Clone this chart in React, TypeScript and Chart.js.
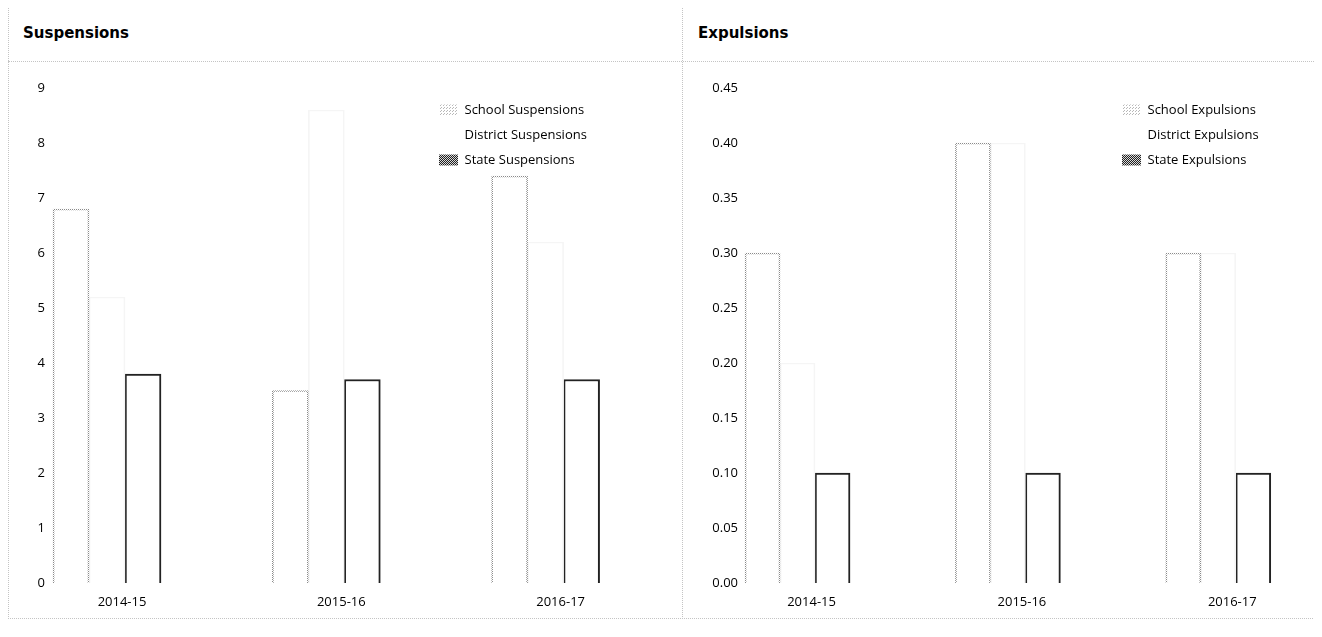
import React, { useEffect, useRef } from 'react';
import { Chart, registerables } from 'chart.js';

Chart.register(...registerables);

// ---------- data ----------
const categories = ['2014-15', '2015-16', '2016-17'];

const suspensionLabels = ['School Suspensions', 'District Suspensions', 'State Suspensions'];
const schoolSuspensions = [6.8, 3.5, 7.4];
const districtSuspensions = [5.2, 8.6, 6.2];
const stateSuspensions = [3.8, 3.7, 3.7];
const suspensionTicks = [0, 1, 2, 3, 4, 5, 6, 7, 8, 9];

const expulsionLabels = ['School Expulsions', 'District Expulsions', 'State Expulsions'];
const schoolExpulsions = [0.3, 0.4, 0.3];
const districtExpulsions = [0.2, 0.4, 0.3];
const stateExpulsions = [0.1, 0.1, 0.1];
const expulsionTicks = [0, 0.05, 0.1, 0.15, 0.2, 0.25, 0.3, 0.35, 0.4, 0.45];

// ---------- helpers ----------
function makePattern(ctx: CanvasRenderingContext2D, size: number, dots: number[][], color: string, bg?: string) {
  const c = document.createElement('canvas');
  c.width = size;
  c.height = size;
  const g = c.getContext('2d')!;
  if (bg) {
    g.fillStyle = bg;
    g.fillRect(0, 0, size, size);
  }
  g.fillStyle = color;
  dots.forEach(([x, y]) => g.fillRect(x, y, 1, 1));
  return ctx.createPattern(c, 'repeat') as CanvasPattern;
}

const tickFont = { family: "'Open Sans', 'DejaVu Sans', sans-serif", size: 13 };
const legendFont = { family: "'Open Sans', 'DejaVu Sans', sans-serif", size: 13 };

type PanelProps = {
  labels: string[];
  school: number[];
  district: number[];
  state: number[];
  yTicks: number[];
  decimals: number;
  xMin: number;
  xMax: number;
  barThickness: number;
  labelOffset: number;
  yWidth: number;
  yPad: number;
  rightPad: number;
  left: number;
  top: number;
  width: number;
  height: number;
  legendX: number;
  legendY: number;
};

function BarPanel(p: PanelProps) {
  const ref = useRef<HTMLCanvasElement>(null);

  useEffect(() => {
    const canvas = ref.current!;
    const ctx = canvas.getContext('2d')!;
    const schoolEdge = makePattern(ctx, 2, [[0, 0], [1, 1]], '#8a8a8a');
    const schoolSwatch = makePattern(ctx, 3, [[0, 0], [2, 1]], '#b8b8b8');
    const stateSwatch = makePattern(ctx, 2, [[0, 0], [1, 1]], '#222222', '#d8d8d8');
    const legendFills = [schoolSwatch, 'rgba(0,0,0,0)', stateSwatch];

    const legendMover = {
      id: 'legendMover',
      afterLayout(chart: any) {
        const lg = chart.legend;
        if (!lg) return;
        const pad = lg.options.labels.padding;
        const l = p.legendX - pad;
        const t = p.legendY - pad;
        lg.left = l;
        lg.top = t;
        lg.right = l + lg.width;
        lg.bottom = t + lg.height;
      },
    };

    const toPoints = (arr: number[]) => arr.map((v, i) => ({ x: i, y: v }));

    const chart = new Chart(canvas, {
      type: 'bar',
      data: {
        datasets: [
          {
            label: p.labels[0],
            data: toPoints(p.school),
            backgroundColor: 'rgba(255,255,255,0)',
            borderColor: schoolEdge,
            borderWidth: 1,
            barThickness: p.barThickness,
          },
          {
            label: p.labels[1],
            data: toPoints(p.district),
            backgroundColor: 'rgba(255,255,255,0)',
            borderColor: '#f5f5f5',
            borderWidth: 1,
            barThickness: p.barThickness,
          },
          {
            label: p.labels[2],
            data: toPoints(p.state),
            backgroundColor: '#ffffff',
            borderColor: '#222222',
            borderWidth: 2,
            barThickness: p.barThickness,
          },
        ] as any,
      },
      options: {
        responsive: false,
        animation: false,
        events: [],
        layout: { padding: { top: 26, left: 0, right: p.rightPad, bottom: 0 } },
        scales: {
          x: {
            type: 'linear',
            offset: false,
            min: p.xMin,
            max: p.xMax,
            grid: { display: false, drawTicks: false, offset: false },
            border: { display: false },
            afterBuildTicks: (axis: any) => {
              axis.ticks = categories.map((_, i) => ({ value: i }));
            },
            afterFit: (axis: any) => {
              axis.height = p.height - 26 - 495;
            },
            ticks: {
              autoSkip: false,
              maxRotation: 0,
              labelOffset: p.labelOffset,
              padding: 11,
              color: '#000',
              font: tickFont,
              callback: (v: any) => categories[Number(v)] ?? '',
            },
          },
          y: {
            type: 'linear',
            min: p.yTicks[0],
            max: p.yTicks[p.yTicks.length - 1],
            grid: { display: false, drawTicks: false },
            border: { display: false },
            afterBuildTicks: (axis: any) => {
              axis.ticks = p.yTicks.map((v) => ({ value: v }));
            },
            afterFit: (axis: any) => {
              axis.width = p.yWidth;
            },
            ticks: {
              padding: p.yPad,
              color: '#000',
              font: tickFont,
              callback: (v: any) => Number(v).toFixed(p.decimals),
            },
          },
        },
        plugins: {
          tooltip: { enabled: false },
          legend: {
            position: 'chartArea',
            align: 'start',
            labels: {
              boxWidth: 19,
              boxHeight: 11,
              padding: 12,
              color: '#000',
              font: legendFont,
              generateLabels: (c: any) => {
                const items = (Chart.defaults.plugins.legend.labels as any).generateLabels(c);
                return items.map((it: any, i: number) => ({
                  ...it,
                  fillStyle: legendFills[i],
                  strokeStyle: 'rgba(0,0,0,0)',
                  lineWidth: 0,
                }));
              },
            },
          },
        },
      } as any,
      plugins: [legendMover],
    });
    return () => chart.destroy();
  }, []);

  return (
    <canvas
      ref={ref}
      width={p.width}
      height={p.height}
      style={{ position: 'absolute', left: p.left, top: p.top, display: 'block' }}
    />
  );
}

const titleStyle: React.CSSProperties = {
  position: 'absolute',
  top: 26,
  fontFamily: "'DejaVu Sans', sans-serif",
  fontWeight: 'bold',
  fontSize: 15,
  lineHeight: '15px',
  color: '#000',
  whiteSpace: 'nowrap',
};

const line = '1px dotted #c4c4c4';

export default function App() {
  return (
    <div
      style={{
        position: 'relative',
        marginTop: -8,
        marginLeft: -8,
        width: 1320,
        height: 625,
        background: '#fff',
        overflow: 'hidden',
      }}
    >
      <div style={{ position: 'absolute', left: 8, top: 7, width: 673, height: 610, border: line }} />
      <div style={{ position: 'absolute', left: 682, top: 7, width: 635, height: 610, border: line }} />
      <div style={{ position: 'absolute', left: 8, top: 61, width: 1310, height: 0, borderTop: line }} />

      <div style={{ ...titleStyle, left: 23 }}>Suspensions</div>
      <div style={{ ...titleStyle, left: 698 }}>Expulsions</div>

      <BarPanel
        labels={suspensionLabels}
        school={schoolSuspensions}
        district={districtSuspensions}
        state={stateSuspensions}
        yTicks={suspensionTicks}
        decimals={0}
        xMin={-0.26}
        xMax={2.59}
        barThickness={36}
        labelOffset={15}
        yWidth={41}
        yPad={5}
        rightPad={5}
        left={9}
        top={62}
        width={671}
        height={555}
        legendX={430}
        legendY={41.5}
      />
      <BarPanel
        labels={expulsionLabels}
        school={schoolExpulsions}
        district={districtExpulsions}
        state={stateExpulsions}
        yTicks={expulsionTicks}
        decimals={2}
        xMin={-0.264}
        xMax={2.436}
        barThickness={35}
        labelOffset={14}
        yWidth={59}
        yPad={4}
        rightPad={7}
        left={683}
        top={62}
        width={634}
        height={555}
        legendX={439}
        legendY={41.5}
      />
    </div>
  );
}
